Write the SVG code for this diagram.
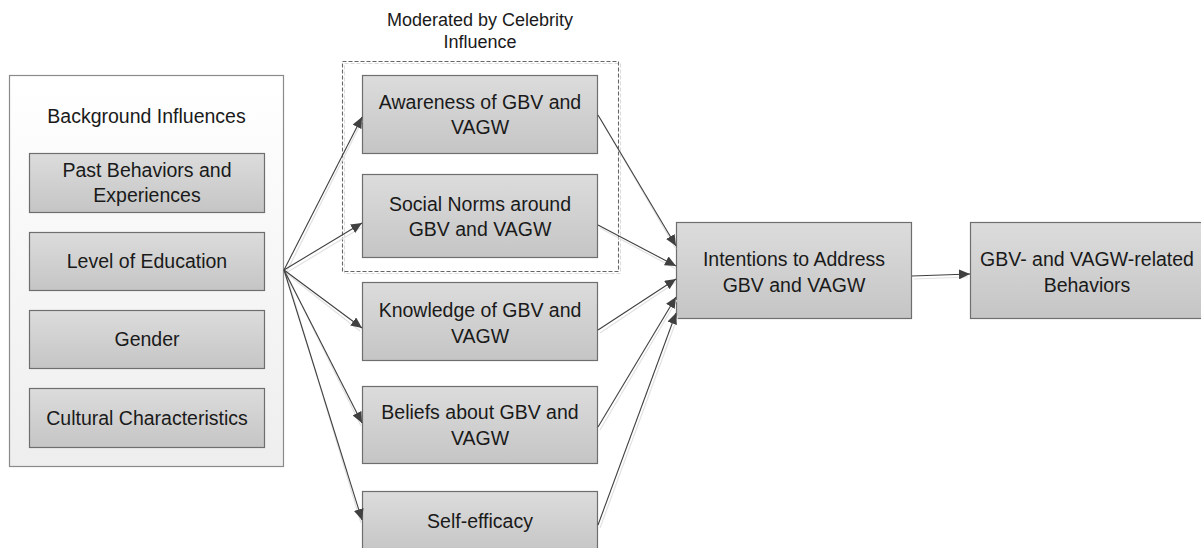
<svg xmlns="http://www.w3.org/2000/svg" width="1201" height="548" viewBox="0 0 1201 548">
<defs>
<linearGradient id="gBox" x1="0" y1="0" x2="0" y2="1">
<stop offset="0" stop-color="#dcdcdc"/>
<stop offset="1" stop-color="#c5c5c5"/>
</linearGradient>
<linearGradient id="gOuter" x1="0" y1="0" x2="0" y2="1">
<stop offset="0" stop-color="#ffffff"/>
<stop offset="1" stop-color="#eeeeee"/>
</linearGradient>
<marker id="arr" markerUnits="userSpaceOnUse" markerWidth="12" markerHeight="10" refX="11" refY="5" orient="auto">
<path d="M0,0 L11,5 L0,10 Z" fill="#404040"/>
</marker>
<style>
.box{fill:url(#gBox);stroke:#6e6e6e;stroke-width:1.2}
.outer{fill:url(#gOuter);stroke:#8a8a8a;stroke-width:1.2}
.t{font-family:"Liberation Sans",Arial,sans-serif;font-size:19.5px;fill:#1a1a1a;text-anchor:middle}
.tt{font-family:"Liberation Sans",Arial,sans-serif;font-size:18px;fill:#1a1a1a;text-anchor:middle}
.ln{fill:none;stroke:#404040;stroke-width:1.1;marker-end:url(#arr)}
.sh{fill:none;stroke:#e2e2e2;stroke-width:1.2}
.dash{fill:none;stroke:#666;stroke-width:1.1;stroke-dasharray:4 2}
.dashsh{fill:none;stroke:#dcdcdc;stroke-width:1.1;stroke-dasharray:4 2}
</style>
</defs>
<rect width="1201" height="548" fill="#ffffff"/>

<g id="background">
<rect class="outer" x="9.5" y="75.5" width="274" height="391"/>
<text class="t" x="146.5" y="122.5">Background Influences</text>
</g>
<g id="past">
<rect class="box" x="29.5" y="153.5" width="235" height="59"/>
<text class="t" x="147" y="177">Past Behaviors and</text>
<text class="t" x="147" y="202">Experiences</text>
</g>
<g id="education">
<rect class="box" x="29.5" y="232.5" width="235" height="58"/>
<text class="t" x="147" y="268">Level of Education</text>
</g>
<g id="gender">
<rect class="box" x="29.5" y="310.5" width="235" height="58"/>
<text class="t" x="147" y="346">Gender</text>
</g>
<g id="cultural">
<rect class="box" x="29.5" y="388.5" width="235" height="59"/>
<text class="t" x="147" y="424.5">Cultural Characteristics</text>
</g>

<g id="moderator">
<rect class="dashsh" x="344.5" y="63.5" width="276" height="210"/>
<rect class="dash" x="342.5" y="61.5" width="276" height="210"/>
<text class="tt" x="480" y="26">Moderated by Celebrity</text>
<text class="tt" x="480" y="48">Influence</text>
</g>

<g id="awareness">
<rect class="box" x="362.5" y="75.5" width="235" height="78"/>
<text class="t" x="480" y="109">Awareness of GBV and</text>
<text class="t" x="480" y="134">VAGW</text>
</g>
<g id="norms">
<rect class="box" x="362.5" y="174.5" width="235" height="83"/>
<text class="t" x="480" y="211">Social Norms around</text>
<text class="t" x="480" y="236">GBV and VAGW</text>
</g>
<g id="knowledge">
<rect class="box" x="362.5" y="282.5" width="235" height="78"/>
<text class="t" x="480" y="317">Knowledge of GBV and</text>
<text class="t" x="480" y="343">VAGW</text>
</g>
<g id="beliefs">
<rect class="box" x="362.5" y="386.5" width="235" height="77"/>
<text class="t" x="480" y="419">Beliefs about GBV and</text>
<text class="t" x="480" y="445">VAGW</text>
</g>
<g id="selfefficacy">
<rect class="box" x="362.5" y="491.5" width="235" height="62"/>
<text class="t" x="480" y="528">Self-efficacy</text>
</g>

<g id="intentions">
<rect class="box" x="676.5" y="222.5" width="235" height="96"/>
<text class="t" x="794" y="266">Intentions to Address</text>
<text class="t" x="794" y="292">GBV and VAGW</text>
</g>
<g id="behaviors">
<rect class="box" x="970.5" y="222.5" width="236" height="96"/>
<text class="t" x="1087" y="266">GBV- and VAGW-related</text>
<text class="t" x="1087" y="292">Behaviors</text>
</g>

<g id="connectors">
<g class="shadows">
<path class="sh" d="M286,273 L362,121"/>
<path class="sh" d="M286,273 L362,227"/>
<path class="sh" d="M286,273 L360,331"/>
<path class="sh" d="M286,273 L361,426"/>
<path class="sh" d="M286,273 L361,523"/>
<path class="sh" d="M600,118 L676,249"/>
<path class="sh" d="M600,228 L676,269"/>
<path class="sh" d="M600,333 L676,282"/>
<path class="sh" d="M600,430 L677,300"/>
<path class="sh" d="M600,528 L678,316"/>
<path class="sh" d="M914,279 L968,277"/>
</g>
<path class="ln" d="M284,270 L362,117"/>
<path class="ln" d="M284,270 L362,223"/>
<path class="ln" d="M284,270 L362,328"/>
<path class="ln" d="M284,270 L362,423"/>
<path class="ln" d="M284,270 L362,520"/>
<path class="ln" d="M598,115 L676,246"/>
<path class="ln" d="M598,225 L676,266"/>
<path class="ln" d="M598,330 L676,279"/>
<path class="ln" d="M598,427 L676,297"/>
<path class="ln" d="M598,525 L676,313"/>
<path class="ln" d="M912,276 L970,274"/>
</g>
</svg>
